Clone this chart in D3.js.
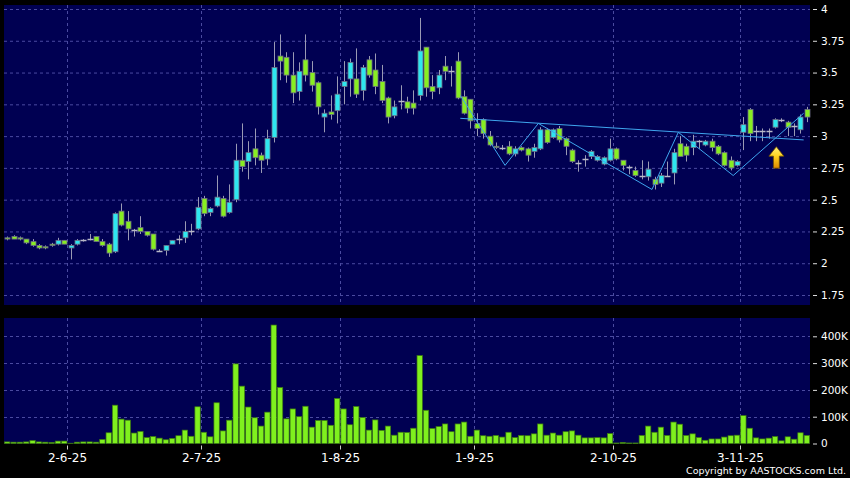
<!DOCTYPE html>
<html lang="en">
<head>
<meta charset="UTF-8">
<title>Candlestick chart</title>
<script src="https://cdn.jsdelivr.net/npm/d3@7/dist/d3.min.js"></script>
<style>
  body { margin: 0; background: #000; }
  svg { display: block; }
  text { font-family: "DejaVu Sans", sans-serif; fill: #fff; }
</style>
</head>
<body>
<div id="chart"></div>
<script>
// daily candles, oldest first
const open = [2.20,2.21,2.20,2.19,2.17,2.14,2.13,2.15,2.15,2.18, 2.12,2.15,2.18,2.19,2.21,2.17,2.15,2.09,2.41,2.33,
  2.26,2.28,2.25,2.23,2.10,2.10,2.15,2.19,2.20,2.25, 2.27,2.51,2.40,2.45,2.51,2.40,2.50,2.81,2.80,2.90,
  2.85,2.82,2.99,3.63,3.62,3.48,3.35,3.60,3.50,3.42, 3.15,3.19,3.20,3.39,3.45,3.45,3.36,3.60,3.52,3.43,
  3.30,3.16,3.28,3.27,3.26,3.32,3.70,3.39,3.38,3.55, 3.51,3.59,3.31,3.29,3.10,3.13,3.00,2.92,2.91,2.92,
  2.86,2.91,2.90,2.88,2.90,3.05,2.99,3.06,2.98,2.89, 2.79,2.82,2.84,2.81,2.78,2.81,2.90,2.81,2.76,2.73,
  2.69,2.68,2.66,2.63,2.69,2.71,2.94,2.92,2.91,2.96, 2.93,2.96,2.92,2.87,2.81,2.77,3.03,3.21,3.04,3.04,
  3.04,3.07,3.13,3.11,3.08,3.05,3.21]
const high = [2.21,2.22,2.21,2.19,2.19,2.15,2.14,2.16,2.20,2.18, 2.15,2.19,2.19,2.23,2.21,2.19,2.16,2.40,2.47,2.41,
  2.27,2.37,2.25,2.23,2.11,2.14,2.18,2.22,2.33,2.31, 2.52,2.53,2.44,2.69,2.53,2.62,2.94,3.10,2.96,3.06,
  2.87,3.05,3.74,3.80,3.66,3.66,3.58,3.80,3.59,3.43, 3.21,3.32,3.47,3.59,3.61,3.69,3.56,3.63,3.65,3.56,
  3.31,3.28,3.40,3.31,3.36,3.93,3.70,3.48,3.52,3.63, 3.55,3.66,3.36,3.29,3.18,3.14,3.04,2.95,2.93,2.96,
  2.92,2.92,2.91,2.94,3.07,3.06,3.06,3.08,2.99,2.90, 2.81,2.85,2.89,2.85,2.84,2.98,2.91,2.81,2.77,2.76,
  2.81,2.80,2.68,2.71,2.80,2.90,3.00,2.94,3.01,2.97, 2.97,2.98,2.93,2.88,2.84,2.81,3.15,3.22,3.08,3.06,
  3.06,3.14,3.14,3.12,3.10,3.17,3.23]
const low = [2.18,2.19,2.18,2.15,2.13,2.11,2.11,2.13,2.14,2.15, 2.03,2.14,2.17,2.18,2.17,2.13,2.05,2.08,2.29,2.18,
  2.21,2.23,2.21,2.10,2.09,2.06,2.15,2.15,2.16,2.22, 2.26,2.37,2.37,2.44,2.36,2.39,2.48,2.72,2.66,2.77,
  2.71,2.77,2.95,3.44,3.42,3.26,3.28,3.43,3.35,3.17, 3.03,3.13,3.10,3.25,3.31,3.30,3.28,3.46,3.33,3.26,
  3.10,3.14,3.21,3.18,3.17,3.28,3.31,3.29,3.33,3.44, 3.39,3.29,3.17,3.06,3.00,2.98,2.92,2.90,2.89,2.85,
  2.84,2.88,2.80,2.83,2.89,2.94,2.98,2.95,2.85,2.79, 2.72,2.76,2.82,2.80,2.77,2.80,2.81,2.73,2.70,2.68,
  2.66,2.65,2.58,2.60,2.68,2.62,2.84,2.80,2.85,2.90, 2.92,2.88,2.85,2.76,2.73,2.76,2.89,2.96,2.96,2.96,
  2.98,3.06,3.11,3.00,3.00,3.02,3.11]
const close = [2.19,2.19,2.19,2.16,2.14,2.12,2.12,2.14,2.18,2.15, 2.14,2.18,2.18,2.19,2.17,2.14,2.08,2.39,2.30,2.27,
  2.26,2.25,2.22,2.11,2.10,2.14,2.18,2.19,2.25,2.25, 2.44,2.39,2.43,2.52,2.37,2.48,2.81,2.76,2.87,2.83,
  2.81,2.98,3.54,3.59,3.48,3.34,3.51,3.48,3.40,3.23, 3.18,3.17,3.33,3.43,3.58,3.33,3.54,3.48,3.39,3.28,
  3.15,3.23,3.28,3.22,3.22,3.67,3.38,3.35,3.48,3.51, 3.51,3.30,3.18,3.12,3.06,3.02,2.93,2.91,2.91,2.86,
  2.90,2.89,2.85,2.91,3.05,2.95,3.05,2.97,2.92,2.80, 2.79,2.82,2.88,2.84,2.83,2.90,2.82,2.77,2.76,2.69,
  2.69,2.74,2.62,2.69,2.69,2.87,2.84,2.85,2.96,2.96, 2.96,2.91,2.86,2.77,2.75,2.80,3.09,3.02,3.04,3.04,
  3.04,3.13,3.13,3.07,3.08,3.15,3.15]
// volume in thousands of shares
const volumeK = [6,5,5,6,11,6,5,4,9,9, 1,5,6,6,5,15,40,143,91,87, 39,45,22,26,20,14,19,29,50,27,
  137,42,25,152,47,87,297,214,136,96, 65,117,442,209,92,129,100,139,61,86, 86,68,168,129,70,138,97,50,88,49,
  65,31,42,41,57,328,124,56,63,73, 44,73,80,27,50,29,27,30,24,42, 22,30,29,36,73,31,39,31,44,47,
  31,21,21,22,21,37,2,4,2,2, 30,65,42,61,30,80,72,30,36,22, 12,17,17,24,29,31,104,57,21,17,
  20,26,10,25,16,40,30]

// first trading day of each month: candle index and label
const monthIdx = [10, 31, 53, 74, 96, 116]
const monthLabels = ["2-6-25", "2-7-25", "1-8-25", "1-9-25", "2-10-25", "3-11-25"]
const priceTicks = [4, 3.75, 3.5, 3.25, 3, 2.75, 2.5, 2.25, 2, 1.75]
const volTicks = [0, 100000, 200000, 300000, 400000]

// drawn pattern: zigzag and neckline, [candle index, price]
const zigzag = [[71.4, 3.32], [78.45, 2.77], [83.7, 3.10], [101.6, 2.58], [105.75, 3.03], [114.4, 2.69], [125.5, 3.18]]
const neckline = [[71.4, 3.14], [125.5, 2.97]]
const arrowAt = [121.2, 2.98]

const width = 850, height = 478
const left = 4, right = 810
const pTop = 5, pBottom = 305, vTop = 318, vBottom = 443.5

const svg = d3.select("#chart").append("svg")
  .attr("width", width)
  .attr("height", height)

const defs = svg.append("defs")
const grad = defs.append("linearGradient").attr("id", "gold")
  .attr("x1", 0).attr("y1", 0).attr("x2", 0).attr("y2", 1)
grad.append("stop").attr("offset", "0%").attr("stop-color", "#fff27a")
grad.append("stop").attr("offset", "45%").attr("stop-color", "#ffd21e")
grad.append("stop").attr("offset", "100%").attr("stop-color", "#e08a00")

// continuous index scale: index i sits in the middle of its slot
const xScale = d3.scaleLinear().domain([-0.5, close.length - 0.5]).range([left, right])
const step = xScale(1) - xScale(0)
const yScale = d3.scaleLinear().domain([1.75, 4]).range([295, 9])
const vScale = d3.scaleLinear().domain([0, 400000]).range([vBottom, 336.3])

svg.append("rect").attr("x", left).attr("y", pTop).attr("width", right - left).attr("height", pBottom - pTop).attr("fill", "#000052")
svg.append("rect").attr("x", left).attr("y", vTop).attr("width", right - left).attr("height", vBottom - vTop).attr("fill", "#000052")

const gridColor = "#4a4aa0"
// horizontal grids
svg.append("g").selectAll("line").data(priceTicks).join("line")
  .attr("x1", left).attr("x2", right)
  .attr("y1", d => yScale(d) + 0.5).attr("y2", d => yScale(d) + 0.5)
  .attr("stroke", gridColor).attr("stroke-dasharray", "3,3")
svg.append("g").selectAll("line").data(volTicks.slice(1)).join("line")
  .attr("x1", left).attr("x2", right)
  .attr("y1", d => Math.round(vScale(d)) + 0.5).attr("y2", d => Math.round(vScale(d)) + 0.5)
  .attr("stroke", gridColor).attr("stroke-dasharray", "3,3")
// vertical grids in both panels
const gx = monthIdx.map(i => Math.round(xScale(i - 0.5)) + 0.5)
svg.append("g").selectAll("line").data(gx).join("line")
  .attr("x1", d => d).attr("x2", d => d).attr("y1", pTop).attr("y2", pBottom)
  .attr("stroke", gridColor).attr("stroke-dasharray", "3,3")
svg.append("g").selectAll("line").data(gx).join("line")
  .attr("x1", d => d).attr("x2", d => d).attr("y1", vTop).attr("y2", vBottom)
  .attr("stroke", gridColor).attr("stroke-dasharray", "3,3")

// right price axis
const yAxis = d3.axisRight(yScale).tickValues(priceTicks).tickSize(4).tickPadding(4)
  .tickFormat(d => d3.format("")(d))
const ya = svg.append("g").attr("transform", `translate(${right + 3},0)`).call(yAxis)
ya.select(".domain").remove()
ya.selectAll("line").attr("stroke", "#ddd")
ya.selectAll("text").attr("fill", "#fff").style("font-size", "10.5px").attr("font-family", "DejaVu Sans")

const vAxis = d3.axisRight(vScale).tickValues(volTicks).tickSize(4).tickPadding(4)
  .tickFormat(d => d === 0 ? "0" : (d / 1000) + "K")
const va = svg.append("g").attr("transform", `translate(${right + 3},0)`).call(vAxis)
va.select(".domain").remove()
va.selectAll("line").attr("stroke", "#ddd")
va.selectAll("text").attr("fill", "#fff").style("font-size", "10.5px").attr("font-family", "DejaVu Sans")

// bottom date axis
const xa = svg.append("g")
xa.selectAll("line").data(gx).join("line")
  .attr("x1", d => d).attr("x2", d => d).attr("y1", vBottom + 2).attr("y2", vBottom + 6)
  .attr("stroke", "#ccc")
xa.selectAll("text").data(monthLabels).join("text")
  .attr("x", (d, i) => gx[i])
  .attr("y", 462)
  .attr("text-anchor", "middle")
  .style("font-size", "12px")
  .text(d => d)

svg.append("text")
  .attr("x", 846).attr("y", 474)
  .attr("text-anchor", "end")
  .style("font-size", "9.5px")
  .text("Copyright by AASTOCKS.com Ltd.")

// candles
const idx = d3.range(close.length)
const upColor = "#2ee6f0", downColor = "#88ee22", flatColor = "#b8b8c8"
const bodyW = 5

svg.append("g").selectAll("line").data(idx).join("line")
  .attr("x1", i => Math.round(xScale(i)) + 0.5).attr("x2", i => Math.round(xScale(i)) + 0.5)
  .attr("y1", i => yScale(high[i])).attr("y2", i => yScale(low[i]))
  .attr("stroke", "#9a9ab4")

svg.append("g").selectAll("rect").data(idx.filter(i => open[i] !== close[i])).join("rect")
  .attr("x", i => Math.round(xScale(i)) - 2)
  .attr("y", i => yScale(Math.max(open[i], close[i])))
  .attr("width", bodyW)
  .attr("height", i => Math.max(1, Math.abs(yScale(open[i]) - yScale(close[i]))))
  .attr("fill", i => close[i] > open[i] ? upColor : downColor)
  .attr("stroke", "#6c6c84").attr("stroke-width", 0.8)

svg.append("g").selectAll("line").data(idx.filter(i => open[i] === close[i])).join("line")
  .attr("x1", i => Math.round(xScale(i)) - 2.5).attr("x2", i => Math.round(xScale(i)) + 3.5)
  .attr("y1", i => Math.round(yScale(close[i])) + 0.5).attr("y2", i => Math.round(yScale(close[i])) + 0.5)
  .attr("stroke", flatColor).attr("stroke-width", 1.5)

// volume bars
svg.append("g").selectAll("rect").data(idx).join("rect")
  .attr("x", i => xScale(i) - step / 2 + 0.5)
  .attr("y", i => vScale(volumeK[i] * 1000))
  .attr("width", step - 1)
  .attr("height", i => vBottom - vScale(volumeK[i] * 1000))
  .attr("fill", "#7ff01e")
  .attr("stroke", "#3c7a10").attr("stroke-width", 0.7)

// pattern lines
const line = d3.line().x(d => xScale(d[0])).y(d => yScale(d[1]))
svg.append("path").datum(neckline).attr("d", line)
  .attr("fill", "none").attr("stroke", "#3fa6ee").attr("stroke-width", 1)
svg.append("path").datum(zigzag).attr("d", line)
  .attr("fill", "none").attr("stroke", "#3fa6ee").attr("stroke-width", 1)

// breakout arrow
const ax = xScale(arrowAt[0]), ay = yScale(arrowAt[1]) + 8
svg.append("path")
  .attr("d", `M${ax},${ay} l7.5,9.5 h-4.5 v12 h-6 v-12 h-4.5 Z`)
  .attr("fill", "url(#gold)")
  .attr("stroke", "#6b4a00").attr("stroke-width", 0.8)
</script>
</body>
</html>
